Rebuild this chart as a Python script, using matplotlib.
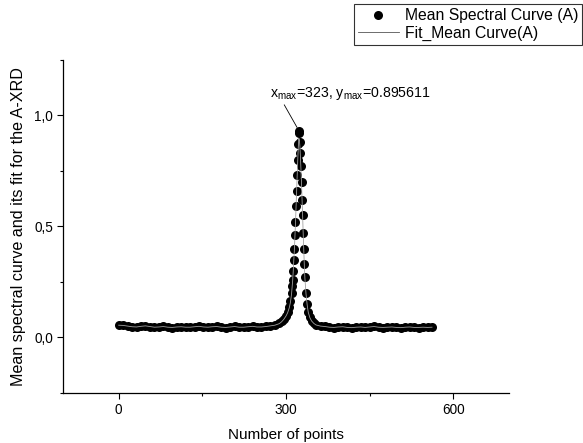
import numpy as np
import matplotlib
matplotlib.use("Agg")
import matplotlib.pyplot as plt
from matplotlib.ticker import MultipleLocator, FuncFormatter

plt.rcParams['font.family'] = ['Liberation Sans', 'DejaVu Sans']
plt.rcParams['mathtext.fontset'] = 'custom'
plt.rcParams['mathtext.rm'] = 'Liberation Sans'
plt.rcParams['mathtext.it'] = 'Liberation Sans'

# ---- data ----
left_x = list(range(0, 289, 8))
left_y = [0.056, 0.055, 0.052, 0.048, 0.046, 0.050, 0.053, 0.049, 0.045, 0.047,
          0.050, 0.046, 0.044, 0.047, 0.049, 0.046, 0.045, 0.048, 0.051, 0.047,
          0.045, 0.048, 0.050, 0.046, 0.044, 0.047, 0.050, 0.046, 0.045, 0.049,
          0.051, 0.047, 0.046, 0.050, 0.052, 0.056, 0.063]
left_fit = [0.055, 0.054, 0.051, 0.048, 0.047, 0.050, 0.052, 0.049, 0.046, 0.047,
            0.049, 0.046, 0.045, 0.047, 0.048, 0.046, 0.046, 0.048, 0.050, 0.047,
            0.046, 0.048, 0.049, 0.046, 0.045, 0.047, 0.049, 0.046, 0.046, 0.048,
            0.050, 0.047, 0.047, 0.049, 0.052, 0.055, 0.062]

peak_x = [292, 296, 300, 303, 306, 308, 310, 311, 312, 313, 314, 315, 316, 317,
          318, 319, 320, 321, 322, 323, 324, 325, 326, 327, 328, 329, 330, 331,
          332, 333, 334, 336, 338, 340, 343, 346, 350]
peak_y = [0.072, 0.083, 0.098, 0.113, 0.137, 0.162, 0.20, 0.23, 0.26, 0.30, 0.35,
          0.40, 0.46, 0.52, 0.59, 0.66, 0.73, 0.80, 0.87, 0.93, 0.92, 0.88, 0.83,
          0.77, 0.70, 0.62, 0.55, 0.47, 0.40, 0.33, 0.27, 0.20, 0.15, 0.115,
          0.090, 0.075, 0.064]
peak_fit = [0.070, 0.081, 0.096, 0.111, 0.134, 0.158, 0.195, 0.225, 0.255, 0.295,
            0.345, 0.39, 0.45, 0.51, 0.58, 0.65, 0.72, 0.79, 0.85, 0.896, 0.89,
            0.86, 0.81, 0.75, 0.69, 0.61, 0.54, 0.46, 0.39, 0.32, 0.265, 0.195,
            0.147, 0.113, 0.088, 0.074, 0.063]

right_x = list(range(354, 563, 8))
right_y = [0.057, 0.051, 0.050, 0.046, 0.044, 0.047, 0.049, 0.045, 0.043, 0.046,
           0.048, 0.045, 0.047, 0.050, 0.046, 0.044, 0.046, 0.048, 0.045, 0.043,
           0.046, 0.048, 0.045, 0.044, 0.047, 0.045, 0.046]
right_fit = [0.056, 0.051, 0.049, 0.046, 0.045, 0.047, 0.048, 0.045, 0.044, 0.046,
             0.047, 0.045, 0.047, 0.049, 0.046, 0.045, 0.046, 0.047, 0.045, 0.044,
             0.046, 0.047, 0.045, 0.045, 0.046, 0.045, 0.046]

x_max, y_max = 323, 0.895611
x_ticks = [0, 300, 600]
y_ticks = [0.0, 0.5, 1.0]

x = np.array(left_x + peak_x + right_x)
y = np.array(left_y + peak_y + right_y)
yfit = np.array(left_fit + peak_fit + right_fit)

fig = plt.figure(figsize=(5.83, 4.43), dpi=100)
ax = fig.add_axes([0.108, 0.113, 0.765, 0.752])

ax.plot(x, y, 'o', color='black', markersize=6.5, markeredgewidth=0,
        label='Mean Spectral Curve (A)', zorder=2)
ax.plot(x, yfit, '-', color='#a0a0a0', lw=0.6,
        label='Fit_Mean Curve(A)', zorder=3)

ax.set_xlim(-100, 700)
ax.set_ylim(-0.25, 1.25)
ax.set_xticks(x_ticks)
ax.set_yticks(y_ticks)
ax.xaxis.set_minor_locator(MultipleLocator(150))
ax.yaxis.set_minor_locator(MultipleLocator(0.25))
ax.yaxis.set_major_formatter(FuncFormatter(lambda v, p: f"{v:.1f}".replace('.', ',')))
ax.tick_params(which='major', direction='out', length=4, width=0.8, labelsize=9.8, pad=3)
ax.tick_params(which='minor', direction='out', length=2.5, width=0.8)
for s in ['top', 'right']:
    ax.spines[s].set_visible(False)
for s in ['left', 'bottom']:
    ax.spines[s].set_linewidth(0.9)

ax.set_xlabel('Number of points', fontsize=11, labelpad=8)
ax.set_ylabel('Mean spectral curve and its fit for the A-XRD', fontsize=11.6, labelpad=6)

ax.annotate(r'$\mathregular{x_{max}}$=' + f'{x_max}, ' + r'$\mathregular{y_{max}}$=' + f'{y_max}',
            xy=(x_max - 3, 0.945), xytext=(271, 1.06), fontsize=10.2,
            ha='left', va='bottom',
            arrowprops=dict(arrowstyle='-', lw=0.6, color='black',
                            shrinkA=0, shrinkB=0, relpos=(0.08, 0.0)))

leg = fig.legend(loc='upper right', bbox_to_anchor=(0.999, 0.99), fontsize=11.3,
                 frameon=True, fancybox=False, edgecolor='black', numpoints=1,
                 handlelength=2.6, borderpad=0.25, labelspacing=0.15,
                 handletextpad=0.4, borderaxespad=0)
leg.get_frame().set_linewidth(0.8)
leg.legend_handles[1].set_color('#555555')

fig.savefig('out.png', dpi=100)
